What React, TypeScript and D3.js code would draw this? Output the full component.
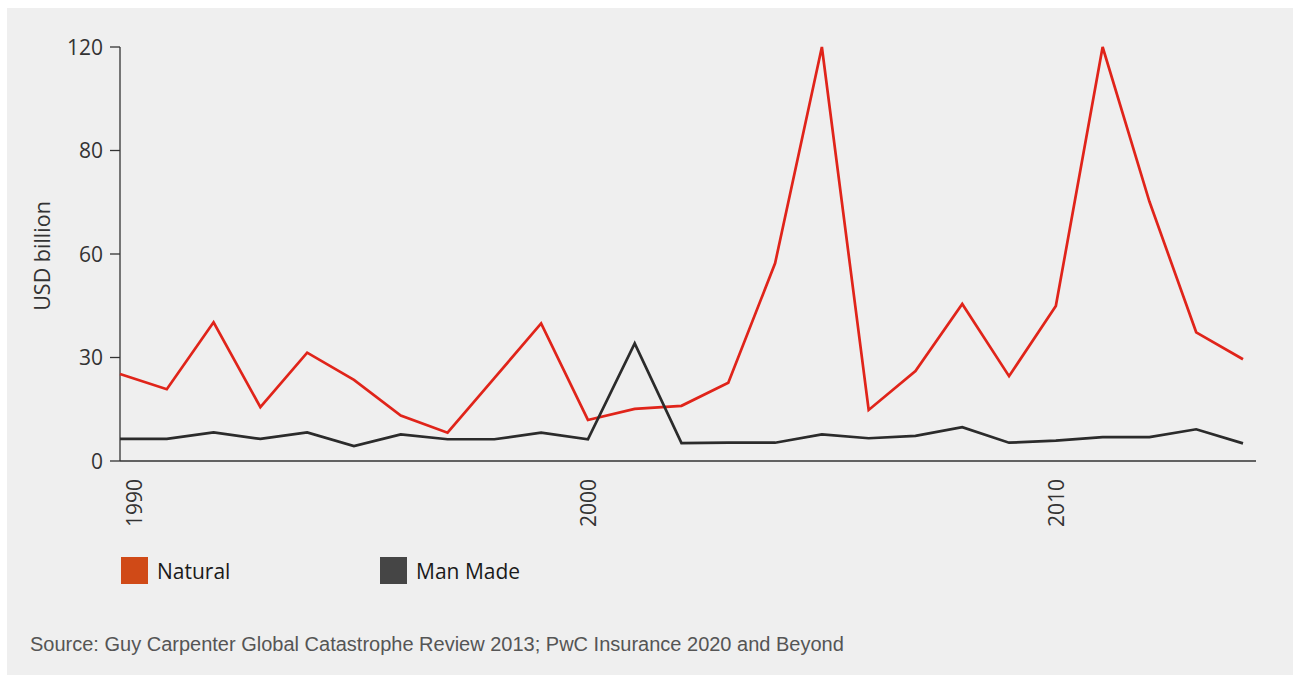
import React from "react";
import * as d3 from "d3";

const years = [1990, 1991, 1992, 1993, 1994, 1995, 1996, 1997, 1998, 1999, 2000, 2001, 2002, 2003, 2004, 2005, 2006, 2007, 2008, 2009, 2010, 2011, 2012, 2013, 2014];
const natural = [25.2, 20.8, 40.2, 15.6, 31.4, 23.5, 13.2, 8.2, 24.0, 39.9, 11.9, 15.1, 16.0, 22.7, 57.3, 120, 14.8, 26.1, 45.5, 24.6, 44.9, 120, 75.2, 37.3, 29.5];
const manMade = [6.4, 6.4, 8.3, 6.4, 8.3, 4.3, 7.7, 6.3, 6.3, 8.2, 6.3, 34.1, 5.2, 5.3, 5.3, 7.7, 6.6, 7.3, 9.8, 5.3, 5.9, 6.9, 6.9, 9.2, 5.1];
const yTickValues = [0, 30, 60, 90, 120];
const yTickLabels = ["0", "30", "60", "80", "120"];
const xTickYears = [1990, 2000, 2010];
const seriesNames = ["Natural", "Man Made"];

const W = 1293;
const H = 675;
const FONT = "'Open Sans', 'Noto Sans', sans-serif";

export default function App() {
  const x = d3.scaleLinear().domain([1990, 2014]).range([120, 1243]);
  const y = d3.scaleLinear().domain([0, 120]).range([461, 47]);
  const axisEnd = x(2014) + 13;

  const line = d3
    .line<number>()
    .x((_, i) => x(years[i]))
    .y((d) => y(d))
    .curve(d3.curveLinear);

  const series = [
    { name: seriesNames[0], values: natural, stroke: "#e0241a", swatch: "#d04a17", lx: 121 },
    { name: seriesNames[1], values: manMade, stroke: "#2b2b2b", swatch: "#454545", lx: 380 },
  ];

  return (
    <svg
      width={W}
      height={H}
      style={{ position: "absolute", left: 0, top: 0, display: "block" }}
      fontFamily={FONT}
    >
      <rect x={0} y={0} width={W} height={H} fill="#ffffff" />
      <rect x={7} y={8} width={W - 7} height={H - 8} fill="#efefef" />

      {/* y axis */}
      <line x1={x(1990)} x2={x(1990)} y1={y(120)} y2={y(0)} stroke="#333" strokeWidth={1.3} />
      {yTickValues.map((v, i) => (
        <g key={v}>
          <line x1={x(1990) - 10} x2={x(1990)} y1={y(v)} y2={y(v)} stroke="#333" strokeWidth={1.3} />
          <text x={103} y={y(v)} dy="0.36em" textAnchor="end" fontSize={21} fill="#333">
            {yTickLabels[i]}
          </text>
        </g>
      ))}
      <text
        transform={`translate(50, ${(y(0) + y(120)) / 2 + 2}) rotate(-90)`}
        textAnchor="middle"
        fontSize={21.5}
        fill="#333"
      >
        USD billion
      </text>

      {/* x axis */}
      <line x1={x(1990)} x2={axisEnd} y1={y(0)} y2={y(0)} stroke="#333" strokeWidth={1.3} />
      {xTickYears.map((yr) => {
        const cx = Math.max(x(yr), x(1990) + 13.5);
        return (
          <text
            key={yr}
            transform={`translate(${cx + 8}, ${y(0) + 18}) rotate(-90)`}
            textAnchor="end"
            fontSize={21}
            fill="#333"
          >
            {yr}
          </text>
        );
      })}

      {/* lines */}
      {series.map((s) => (
        <path
          key={s.name}
          d={line(s.values) || ""}
          fill="none"
          stroke={s.stroke}
          strokeWidth={2.7}
          strokeLinejoin="miter"
        />
      ))}

      {/* legend */}
      {series.map((s) => (
        <g key={"lg" + s.name}>
          <rect x={s.lx} y={557} width={27} height={27} fill={s.swatch} />
          <text x={s.lx + 36} y={579} fontSize={21} fill="#1a1a1a">
            {s.name}
          </text>
        </g>
      ))}

      <text
        x={30}
        y={651}
        fontSize={20}
        fill="#555"
        fontFamily="'Liberation Sans', Arial, sans-serif"
      >
        Source: Guy Carpenter Global Catastrophe Review 2013; PwC Insurance 2020 and Beyond
      </text>
    </svg>
  );
}
